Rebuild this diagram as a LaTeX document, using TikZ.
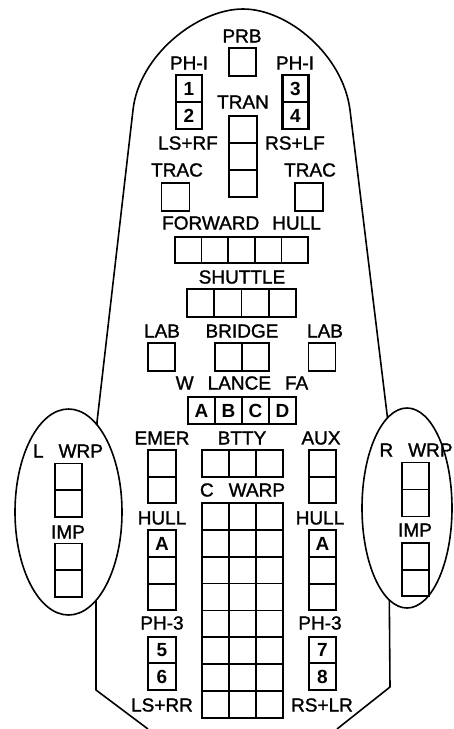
\documentclass[tikz,border=0pt]{standalone}
\usepackage{fontspec}
\setmainfont{Liberation Sans}
\newfontfamily\lettering{Liberation Sans}[FakeBold=1.3]
\tikzset{
  cell/.style={draw, line width=1.7pt, minimum width=27pt, minimum height=27pt,
    inner sep=0pt, outer sep=0pt, font=\fontsize{19}{19}\selectfont\bfseries},
  boldcell/.style={cell, line width=2.6pt},
  lbl/.style={inner sep=0pt, font=\fontsize{19}{19}\selectfont\lettering},
  hull/.style={line width=1.6pt, line join=round}
}
\begin{document}
\begin{tikzpicture}[x=1pt,y=-1pt]
\useasboundingbox (0,0) rectangle (453,729);
% hull outline
\draw[hull] (148,729) -- (96,690) -- (96,560) -- (97,422) -- (133,110)
  .. controls (139,55) and (198,9) .. (243,9)
  .. controls (288,9) and (343,55) .. (350,110)
  -- (388,422) -- (389,560) -- (390,687) -- (337,729);
% side ellipses
\draw[hull, fill=white] (68.5,512) ellipse [x radius=53.5, y radius=103];
\draw[hull, fill=white] (407,508) ellipse [x radius=45, y radius=100];

% PRB
\node[lbl] (tprb) at (242,36) {PRB};
\node[cell, minimum height=28pt] (prb) at (242.5,62) {};
% PH-I
\node[lbl] (tph1l) at (189,63) {PH-I};
\node[boldcell, minimum width=26pt] (ph1) at (189,88.5) {1};
\node[boldcell, minimum width=26pt] (ph2) at (189,115.5) {2};
\node[lbl] (tph1r) at (295,63) {PH-I};
\node[boldcell, minimum width=26pt] (ph3) at (295.5,88.5) {3};
\node[boldcell, minimum width=26pt] (ph4) at (295.5,115.5) {4};
% TRAN
\node[lbl] (ttran) at (243,102) {TRAN};
\node[cell, minimum width=28pt] (tr1) at (243,129.5) {};
\node[cell, minimum width=28pt] (tr2) at (243,156.5) {};
\node[cell, minimum width=28pt] (tr3) at (243,183.5) {};
\node[lbl] (tlsrf) at (188,143) {LS+RF};
\node[lbl] (trslf) at (295,143) {RS+LF};
% TRAC
\node[lbl] (ttracl) at (177,170) {TRAC};
\node[cell, minimum width=28pt, minimum height=28pt] (tracl) at (175.5,197) {};
\node[lbl] (ttracr) at (310,170) {TRAC};
\node[cell, minimum width=28pt, minimum height=28pt] (tracr) at (309,197) {};
% FORWARD HULL
\node[lbl] (tfh) at (241.5,223) {FORWARD\hspace{13pt}HULL};
\foreach \i in {0,...,4}
  \node[cell, minimum width=26.6pt, minimum height=26pt] (fh\i) at ({188.3+26.6*\i},250) {};
% SHUTTLE
\node[lbl] (tsh) at (242,277) {SHUTTLE};
\foreach \i in {0,...,3}
  \node[cell, minimum width=27.25pt, minimum height=28pt] (sh\i) at ({200.6+27.25*\i},303) {};
% LAB / BRIDGE
\node[lbl] (tlabl) at (162,331) {LAB};
\node[cell, minimum height=28pt] (labl) at (161.5,357) {};
\node[lbl] (tbr) at (242,331) {BRIDGE};
\node[cell, minimum height=28pt] (br1) at (228.5,357) {};
\node[cell, minimum height=28pt] (br2) at (255.5,357) {};
\node[lbl] (tlabr) at (325,331) {LAB};
\node[cell, minimum height=28pt] (labr) at (322,357) {};
% W LANCE FA
\node[lbl] (twl) at (242,383) {W\hspace{14pt}LANCE\hspace{14pt}FA};
\node[boldcell] (wa) at (201.5,410.5) {A};
\node[boldcell] (wb) at (228.5,410.5) {B};
\node[boldcell] (wc) at (255.5,410.5) {C};
\node[boldcell] (wd) at (282.5,410.5) {D};
% EMER / BTTY / AUX
\node[lbl] (temer) at (162,438) {EMER};
\node[cell, minimum width=28pt] (em1) at (162,463.5) {};
\node[cell, minimum width=28pt, minimum height=26pt] (em2) at (162,490) {};
\node[lbl] (tbtty) at (242,438) {BTTY};
\foreach \i in {0,1,2}
  \node[cell] (bt\i) at ({215.5+27*\i},463.5) {};
\node[lbl] (taux) at (321,438) {AUX};
\node[cell] (ax1) at (322.5,463.5) {};
\node[cell, minimum height=26pt] (ax2) at (322.5,490) {};
% C WARP
\node[lbl] (tcw) at (242.5,490) {C\hspace{15pt}WARP};
\foreach \r in {0,...,7}
  \foreach \c in {0,1,2}
    \node[cell, minimum height=26.9pt] (cw\r-\c) at ({215.5+27*\c},{516.4+26.875*\r}) {};
% HULL left
\node[lbl] (thl) at (162,518) {HULL};
\node[boldcell, minimum width=28pt] (hla) at (162,543.5) {A};
\node[cell, minimum width=28pt] (hl2) at (162,570.5) {};
\node[cell, minimum width=28pt, minimum height=26pt] (hl3) at (162,597) {};
% HULL right
\node[lbl] (thr) at (320,518) {HULL};
\node[boldcell] (hra) at (322.5,543.5) {A};
\node[cell] (hr2) at (322.5,570.5) {};
\node[cell, minimum height=26pt] (hr3) at (322.5,597) {};
% PH-3
\node[lbl] (tph3l) at (162,623) {PH-3};
\node[boldcell, minimum width=28pt, minimum height=26pt] (p5) at (162,650) {5};
\node[boldcell, minimum width=28pt] (p6) at (162,676.5) {6};
\node[lbl] (tph3r) at (320,623) {PH-3};
\node[boldcell, minimum height=26pt] (p7) at (322.5,650) {7};
\node[boldcell] (p8) at (322.5,676.5) {8};
\node[lbl] (tlsrr) at (162,705) {LS+RR};
\node[lbl] (trslr) at (322,705) {RS+LR};
% left ellipse contents
\node[lbl] (tlwrp) at (68,451) {L\hspace{15pt}WRP};
\node[cell] (lw1) at (68.5,477) {};
\node[cell] (lw2) at (68.5,503.5) {};
\node[lbl] (tlimp) at (68,532) {IMP};
\node[cell] (li1) at (68.5,557) {};
\node[cell] (li2) at (68.5,583.5) {};
% right ellipse contents
\node[lbl] (trwrp) at (416,450) {R\hspace{15pt}WRP};
\node[cell] (rw1) at (415.5,476) {};
\node[cell] (rw2) at (415.5,503) {};
\node[lbl] (trimp) at (415,530) {IMP};
\node[cell] (ri1) at (415.5,556.5) {};
\node[cell, minimum height=26pt] (ri2) at (415.5,583) {};
\end{tikzpicture}
\end{document}
